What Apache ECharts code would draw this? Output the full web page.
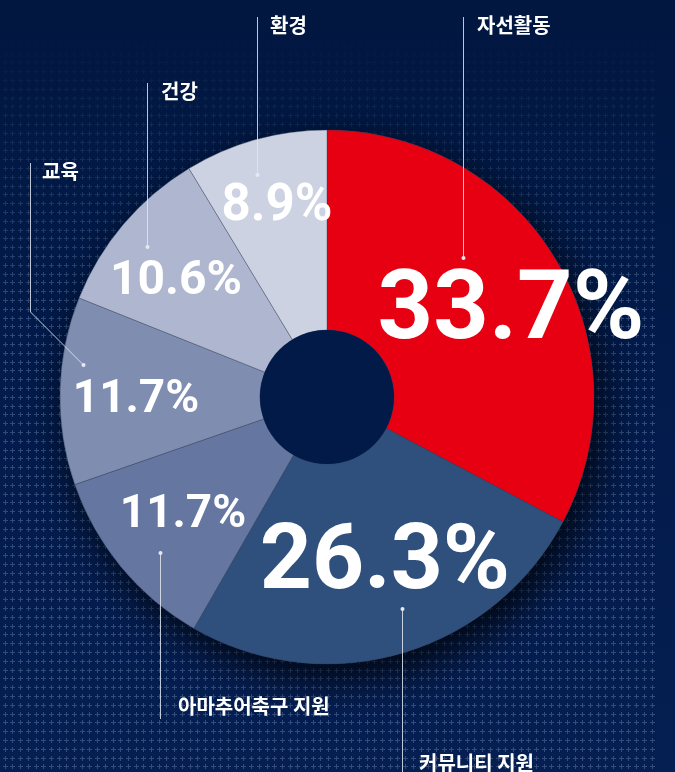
<!DOCTYPE html>
<html><head><meta charset="utf-8">
<script src="https://cdn.jsdelivr.net/npm/echarts@6/dist/echarts.min.js"></script>
<style>html,body{margin:0;padding:0;background:#021b4b;} #c{width:675px;height:772px;}</style>
</head><body><div id="c"></div>
<script>
// ---- data ----
const categories = ['자선활동', '커뮤니티 지원', '아마추어축구 지원', '교육', '건강', '환경'];
const values = [33.7, 26.3, 11.7, 11.7, 10.6, 8.9];
// ---- styles / layout ----
const colors = ['#e60012', '#2f4f7c', '#6577a0', '#7f8eb0', '#aeb7cf', '#ccd2e1'];
const labelSizes = [97, 91, 46, 46, 48, 51];
const labelCenters = [[511, 314], [385, 565], [183, 515], [136, 400], [176, 282], [277, 207]];
const leaderLines = [
  [[463, 17], [463, 258]],
  [[402, 780], [402, 609]],
  [[160, 719], [160, 553]],
  [[30, 163], [30, 312], [83, 365]],
  [[147, 83], [147, 247]],
  [[257, 17], [257, 175]]
];
const namePos = [[477, 25], [419, 763], [178, 706], [42, 171], [161, 91], [270, 25]];
const CENTER = [327, 397];

// ---- background texture ----
(function () {
  const W = 675, H = 772;
  const cv = document.createElement('canvas');
  cv.width = W; cv.height = H;
  const ctx = cv.getContext('2d');
  const g = ctx.createLinearGradient(0, 0, 0, H);
  g.addColorStop(0, '#011740');
  g.addColorStop(0.5, '#021b4b');
  g.addColorStop(1, '#061f52');
  ctx.fillStyle = g; ctx.fillRect(0, 0, W, H);
  for (let j = 0; j < 90; j++) {
    const y = 0.7 + j * 8.8;
    if (y > H + 3) break;
    const a = 0.33 * Math.min(1, Math.max(0, (y - 30) / 280));
    if (a <= 0) continue;
    for (let i = 0; i <= 84; i++) {
      const x = 4.7 + i * 7.7;
      const xi = Math.round(x), yi = Math.round(y);
      ctx.fillStyle = 'rgba(150,170,210,' + a + ')';
      ctx.fillRect(xi - 2, yi, 5, 1);
      ctx.fillRect(xi, yi - 2, 1, 2);
      ctx.fillRect(xi, yi + 1, 1, 2);
    }
  }
  document.getElementById('c').style.background = 'url(' + cv.toDataURL() + ') no-repeat';
})();

const chart = echarts.init(document.getElementById('c'), null, {renderer: 'canvas'});

const graphics = [];
categories.forEach((name, i) => {
  const pts = leaderLines[i].map(p => [p[0] + 0.5, p[1]]);
  graphics.push({type: 'polyline', z: 100, silent: true,
    shape: {points: pts}, style: {stroke: 'rgba(225,230,240,0.85)', lineWidth: 1, fill: null}});
  const end = pts[pts.length - 1];
  graphics.push({type: 'circle', z: 101, silent: true,
    shape: {cx: end[0], cy: end[1], r: 2}, style: {fill: '#e6e9f1'}});
  graphics.push({type: 'text', z: 102, silent: true, x: namePos[i][0], y: namePos[i][1],
    style: {text: name, fill: '#ffffff', fontSize: 20, fontWeight: 'bold',
      fontFamily: '"Noto Sans CJK KR", sans-serif', align: 'left', verticalAlign: 'middle'}});
});

chart.setOption({
  backgroundColor: 'transparent',
  animation: false,
  graphic: graphics,
  series: [
    {
      type: 'pie', silent: true, z: 1,
      center: CENTER, radius: [0, 267],
      label: {show: false}, labelLine: {show: false},
      data: [{value: 1, itemStyle: {color: '#2f4f7c', shadowBlur: 40,
        shadowColor: 'rgba(0,0,0,0.8)', shadowOffsetX: 8, shadowOffsetY: 14}}]
    },
    {
      type: 'pie', z: 2, silent: true,
      center: CENTER, radius: [67, 267],
      startAngle: 90, clockwise: true,
      avoidLabelOverlap: false,
      itemStyle: {borderColor: 'rgba(50,60,85,0.55)', borderWidth: 0.7},
      label: {
        show: true, position: 'inside', color: '#ffffff',
        fontFamily: 'Roboto, sans-serif',
        fontWeight: 'bold',
        formatter: p => p.value + '%'
      },
      labelLine: {show: false},
      labelLayout: function (params) {
        const c = labelCenters[params.dataIndex];
        return {x: c[0], y: c[1], align: 'center', verticalAlign: 'middle'};
      },
      data: categories.map((n, i) => ({
        name: n, value: values[i],
        itemStyle: {color: colors[i]},
        label: {fontSize: labelSizes[i]}
      }))
    },
    {
      type: 'pie', silent: true, z: 3,
      center: CENTER, radius: [0, 67],
      label: {show: false}, labelLine: {show: false},
      data: [{value: 1, itemStyle: {color: '#011a48'}}]
    }
  ]
});
</script>
</body></html>
